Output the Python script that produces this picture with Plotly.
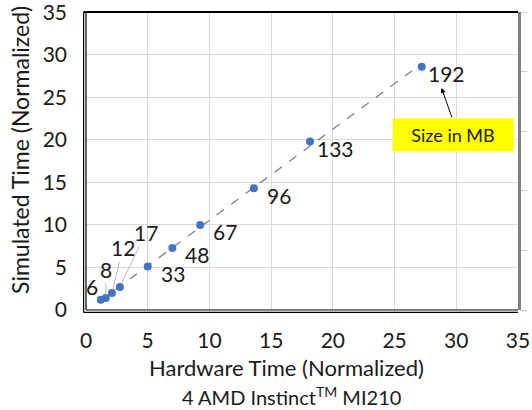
import numpy as np
import plotly.graph_objects as go

# Data (normalized times) and size labels (MB)
hw_time = [1.2, 1.6, 2.1, 2.75, 5.0, 7.0, 9.25, 13.6, 18.15, 27.2]
sim_time = [1.2, 1.4, 2.0, 2.7, 5.1, 7.3, 10.0, 14.3, 19.8, 28.6]
size_mb = ["6", "8", "12", "17", "33", "48", "67", "96", "133", "192"]

x_ticks = [0, 5, 10, 15, 20, 25, 30, 35]
y_ticks = [0, 5, 10, 15, 20, 25, 30, 35]

FONT = "Lato"
TXT = "#1a1a1a"

# linear trendline computed from data
slope, intercept = np.polyfit(hw_time, sim_time, 1)
tx = np.array([min(hw_time), max(hw_time)])
ty = slope * tx + intercept

fig = go.Figure()
fig.add_trace(go.Scatter(x=tx, y=ty, mode="lines",
                         line=dict(color="#808080", width=1.3, dash="dash"),
                         hoverinfo="skip", showlegend=False))
fig.add_trace(go.Scatter(x=hw_time, y=sim_time, mode="markers",
                         marker=dict(color="#4472C4", size=8),
                         showlegend=False))
# invisible trace on secondary y to render right axis
fig.add_trace(go.Scatter(x=[0], y=[0], yaxis="y2", mode="markers",
                         marker=dict(opacity=0), hoverinfo="skip", showlegend=False))

annotations = []
# label offsets (pixels) for small points with leader lines
offsets = {
    "8": (0, -29),
    "12": (11, -45),
    "17": (26, -55),
}
for xv, yv, lab in zip(hw_time, sim_time, size_mb):
    if lab in offsets:
        ax, ay = offsets[lab]
        annotations.append(dict(x=xv, y=yv, text=lab, showarrow=True,
                                ax=ax, ay=ay, arrowhead=0,
                                arrowwidth=0.8, arrowcolor="#a6a6a6",
                                standoff=3,
                                font=dict(family=FONT, size=21, color=TXT)))
    elif lab == "6":
        annotations.append(dict(x=xv, y=yv, text=lab, showarrow=False,
                                xshift=-9, yshift=13,
                                font=dict(family=FONT, size=21, color=TXT)))
    else:
        annotations.append(dict(x=xv, y=yv, text=lab, showarrow=False,
                                xshift=25, yshift=-7,
                                font=dict(family=FONT, size=21, color=TXT)))

# "Size in MB" callout box
annotations.append(dict(x=29.7, y=20.6, text="Size in MB", showarrow=False,
                        bgcolor="#FFFF00", width=118, height=30,
                        font=dict(family=FONT, size=18, color=TXT)))
annotations.append(dict(x=28.8, y=26.1, ax=452 - 441, ay=119 - 88,
                        text="", showarrow=True, arrowhead=2, arrowsize=1,
                        arrowwidth=1, arrowcolor="#000000", standoff=0))

# axis titles
annotations.append(dict(xref="paper", yref="paper", x=0.464, y=0,
                        xanchor="center", yanchor="middle",
                        yshift=-57, text="Hardware Time (Normalized)",
                        showarrow=False, font=dict(family=FONT, size=22, color=TXT)))
annotations.append(dict(xref="paper", yref="paper", x=0.4757, y=0,
                        xanchor="center", yanchor="middle",
                        yshift=-86, text="4 AMD Instinct<sup>TM</sup> MI210",
                        showarrow=False, font=dict(family=FONT, size=20, color=TXT)))
annotations.append(dict(xref="paper", yref="paper", x=-0.1528, y=0.537,
                        xanchor="center", yanchor="middle",
                        textangle=-90, text="Simulated Time (Normalized)",
                        showarrow=False, font=dict(family=FONT, size=23, color=TXT)))

shapes = [
    # left double line
    dict(type="line", xref="paper", yref="paper", x0=0, x1=0, y0=0, y1=1,
         line=dict(color="black", width=1.2)),
    dict(type="line", xref="paper", yref="paper", x0=-0.0055, x1=-0.0055, y0=-0.008, y1=1,
         line=dict(color="black", width=1.2)),
    # bottom double line
    dict(type="line", xref="paper", yref="paper", x0=0, x1=1, y0=0, y1=0,
         line=dict(color="black", width=1.2)),
    dict(type="line", xref="paper", yref="paper", x0=-0.0055, x1=1, y0=-0.008, y1=-0.008,
         line=dict(color="black", width=1.2)),
    # top
    dict(type="line", xref="paper", yref="paper", x0=-0.0055, x1=1, y0=1, y1=1,
         line=dict(color="black", width=2)),
]

fig.update_layout(
    width=532, height=410,
    margin=dict(l=86, r=14, t=12, b=100, autoexpand=False),
    paper_bgcolor="white", plot_bgcolor="white",
    showlegend=False,
    xaxis=dict(range=[0, 35], tickvals=x_ticks, showgrid=True, gridcolor="#d9d9d9",
               gridwidth=1, zeroline=False, showline=False, ticks="",
               ticklabelstandoff=16, automargin=False, ticklabeloverflow="allow",
               tickfont=dict(family=FONT, size=21, color=TXT)),
    yaxis=dict(range=[0, 35.02], tickvals=y_ticks, showgrid=True, gridcolor="#d9d9d9",
               gridwidth=1, zeroline=False, showline=False, ticks="",
               ticklabelstandoff=18, automargin=False, ticklabeloverflow="allow",
               tickfont=dict(family=FONT, size=21, color=TXT)),
    yaxis2=dict(range=[0, 5], dtick=1, overlaying="y", side="right",
                showgrid=False, zeroline=False, showline=True, linecolor="#7f7f7f",
                linewidth=3, ticks="outside", ticklen=6, tickcolor="#c8c8c8",
                showticklabels=False, automargin=False),
    annotations=annotations,
    shapes=shapes,
)

fig.write_html("out.html", config={"displayModeBar": False},
               post_script="document.body.style.margin='0';document.body.style.overflow='hidden';")
